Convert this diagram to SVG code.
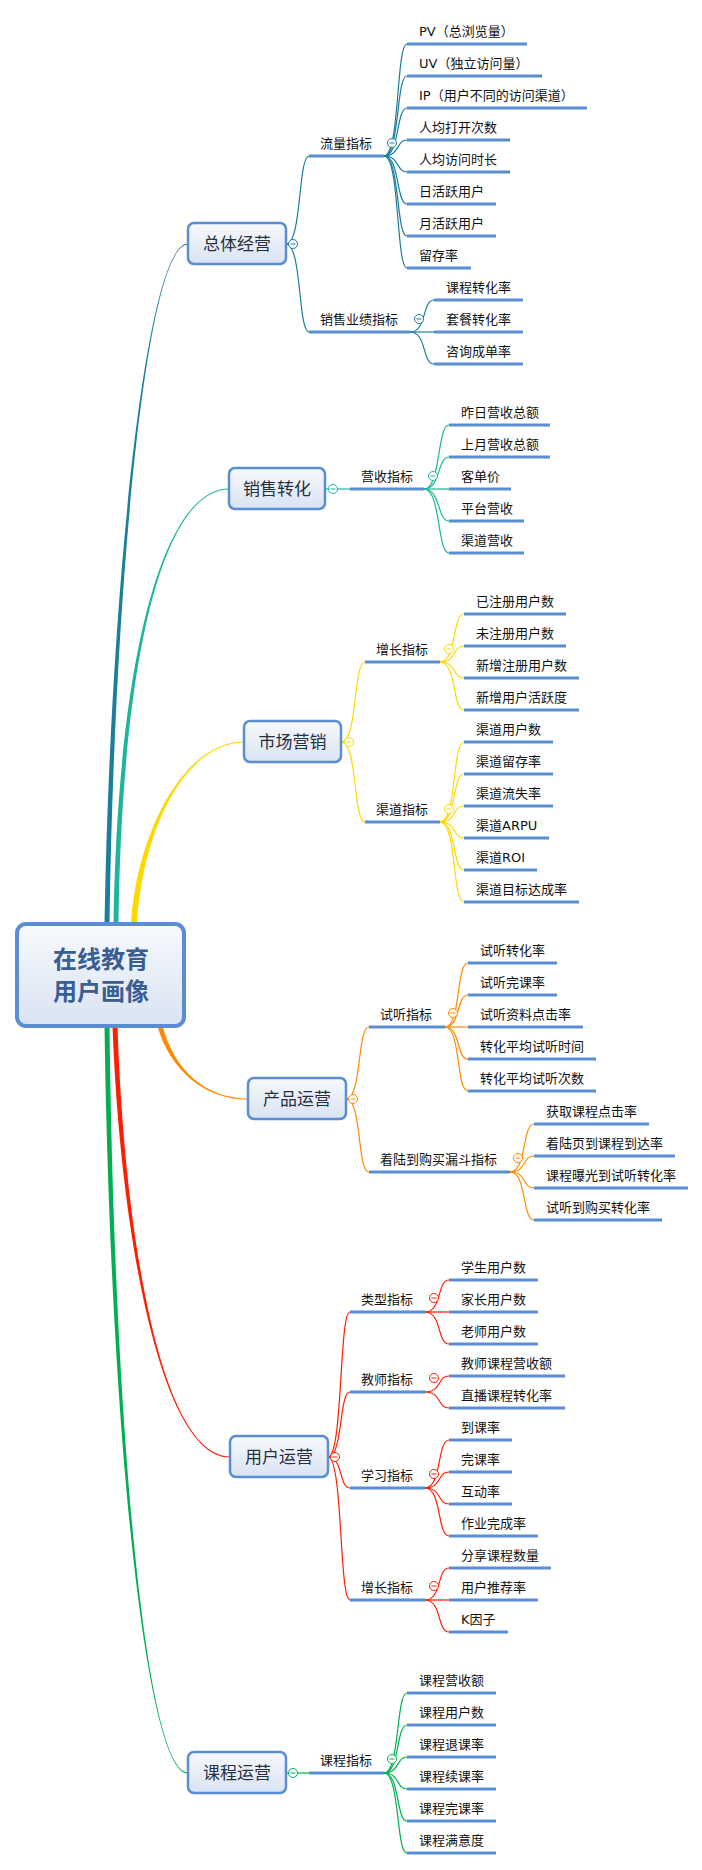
<svg xmlns="http://www.w3.org/2000/svg" width="702" height="1870" viewBox="0 0 702 1870">
<defs>
<linearGradient id="gBox" x1="0" y1="0" x2="0" y2="1">
<stop offset="0" stop-color="#f7f9fd"/>
<stop offset="1" stop-color="#d9e3f2"/>
</linearGradient>
<style>
.u{stroke:#5b8dd3;stroke-width:3;fill:none}
.t{font-family:"DejaVu Sans","Noto Sans CJK SC",sans-serif;font-size:13px;fill:#111}
.l1t{font-family:"Noto Sans CJK SC",sans-serif;font-size:17px;fill:#27303f;text-anchor:middle}
.ct{font-family:"Noto Sans CJK SC",sans-serif;font-size:24px;font-weight:bold;fill:#3a5e92;text-anchor:middle}
.box{fill:url(#gBox);stroke:#5b8dd3;stroke-width:2.5}
.cbox{fill:url(#gBox);stroke:#5b8dd3;stroke-width:4}
.cn{fill:none;stroke-width:1.2}
.cc{fill:#fff;stroke-width:1}
.b1{stroke:#1a7f9c}.f1{fill:#1a7f9c}
.b2{stroke:#1fb59b}.f2{fill:#1fb59b}
.b3{stroke:#ffd800}.f3{fill:#ffd800}
.b4{stroke:#ff8a00}.f4{fill:#ff8a00}
.b5{stroke:#ff1e00}.f5{fill:#ff1e00}
.b6{stroke:#00b050}.f6{fill:#00b050}
</style>
</defs>
<rect width="702" height="1870" fill="#fff"/>
<g id="connectors">
<path class="f1" d="M104.5,923 C110,600 145,243.3 188,243.4 L188,244.6 C145,244.7 114,600 109.5,923 Z"/>
<path class="f2" d="M113.5,923 C118,650 165,488.3 229,488.4 L229,489.6 C165,489.7 122,650 118.5,923 Z"/>
<path class="f3" d="M131,923 C137.5,830 185,741.2 244,741.4 L244,742.6 C185,742.8 142.5,830 137,923 Z"/>
<path class="f4" d="M157.6,1026.6 C170.1,1070.5 205,1099.8 248,1099.6 L248,1098.4 C205,1098.2 173.9,1069.5 162.4,1025.4 Z"/>
<path class="f5" d="M112.5,1026 C120,1230 160,1457.7 230,1457.6 L230,1456.4 C160,1456.3 124,1230 117.5,1026 Z"/>
<path class="f6" d="M104.5,1026 C110,1420 145,1773.7 188,1773.6 L188,1772.4 C145,1772.3 114,1420 109.5,1026 Z"/>
<g class="cn b1">
<path d="M286,244 C302,244 298,156 309,156"/>
<path d="M286,244 C302,244 298,332 309,332"/>
<path d="M384,156 C400,156 396,44 407,44"/>
<path d="M384,156 C400,156 396,76 407,76"/>
<path d="M384,156 C400,156 396,108 407,108"/>
<path d="M384,156 C400,156 396,140 407,140"/>
<path d="M384,156 C400,156 396,172 407,172"/>
<path d="M384,156 C400,156 396,204 407,204"/>
<path d="M384,156 C400,156 396,236 407,236"/>
<path d="M384,156 C400,156 396,268 407,268"/>
<path d="M410,332 C427,332 422,300 434,300"/>
<path d="M410,332 L434,332"/>
<path d="M410,332 C427,332 422,364 434,364"/>
</g>
<g class="cn b2">
<path d="M325,489 L350,489"/>
<path d="M424,489 C441,489 437,425 449,425"/>
<path d="M424,489 C441,489 437,457 449,457"/>
<path d="M424,489 L449,489"/>
<path d="M424,489 C441,489 437,521 449,521"/>
<path d="M424,489 C441,489 437,553 449,553"/>
</g>
<g class="cn b3">
<path d="M341,742 C358,742 353,662 365,662"/>
<path d="M341,742 C358,742 353,822 365,822"/>
<path d="M440,662 C457,662 452,614 464,614"/>
<path d="M440,662 C457,662 452,646 464,646"/>
<path d="M440,662 C457,662 452,678 464,678"/>
<path d="M440,662 C457,662 452,710 464,710"/>
<path d="M440,822 C457,822 452,742 464,742"/>
<path d="M440,822 C457,822 452,774 464,774"/>
<path d="M440,822 C457,822 452,806 464,806"/>
<path d="M440,822 C457,822 452,838 464,838"/>
<path d="M440,822 C457,822 452,870 464,870"/>
<path d="M440,822 C457,822 452,902 464,902"/>
</g>
<g class="cn b4">
<path d="M346,1099 C362,1099 357,1027 369,1027"/>
<path d="M346,1099 C362,1099 357,1172 369,1172"/>
<path d="M445,1027 C461,1027 456,963 468,963"/>
<path d="M445,1027 C461,1027 456,995 468,995"/>
<path d="M445,1027 L468,1027"/>
<path d="M445,1027 C461,1027 456,1059 468,1059"/>
<path d="M445,1027 C461,1027 456,1091 468,1091"/>
<path d="M510,1172 C527,1172 522,1124 534,1124"/>
<path d="M510,1172 C527,1172 522,1156 534,1156"/>
<path d="M510,1172 C527,1172 522,1188 534,1188"/>
<path d="M510,1172 C527,1172 522,1220 534,1220"/>
</g>
<g class="cn b5">
<path d="M328,1457 C343,1457 339,1312 350,1312"/>
<path d="M328,1457 C343,1457 339,1392 350,1392"/>
<path d="M328,1457 C343,1457 339,1488 350,1488"/>
<path d="M328,1457 C343,1457 339,1600 350,1600"/>
<path d="M425,1312 C442,1312 437,1280 449,1280"/>
<path d="M425,1312 L449,1312"/>
<path d="M425,1312 C442,1312 437,1344 449,1344"/>
<path d="M425,1392 C442,1392 437,1376 449,1376"/>
<path d="M425,1392 C442,1392 437,1408 449,1408"/>
<path d="M425,1488 C442,1488 437,1440 449,1440"/>
<path d="M425,1488 C442,1488 437,1472 449,1472"/>
<path d="M425,1488 C442,1488 437,1504 449,1504"/>
<path d="M425,1488 C442,1488 437,1536 449,1536"/>
<path d="M425,1600 C442,1600 437,1568 449,1568"/>
<path d="M425,1600 L449,1600"/>
<path d="M425,1600 C442,1600 437,1632 449,1632"/>
</g>
<g class="cn b6">
<path d="M286,1773 L309,1773"/>
<path d="M384,1773 C400,1773 396,1693 407,1693"/>
<path d="M384,1773 C400,1773 396,1725 407,1725"/>
<path d="M384,1773 C400,1773 396,1757 407,1757"/>
<path d="M384,1773 C400,1773 396,1789 407,1789"/>
<path d="M384,1773 C400,1773 396,1821 407,1821"/>
<path d="M384,1773 C400,1773 396,1853 407,1853"/>
</g>
</g>

<g id="root">
<rect class="cbox" x="17" y="924" width="167" height="102" rx="9"/>
<text class="ct" x="101" y="968">在线教育</text>
<text class="ct" x="101" y="1000">用户画像</text>
</g>

<!-- Branch 1 -->
<g id="n-zongti">
<rect class="box" x="188" y="223" width="98" height="41" rx="6"/>
<text class="l1t" x="237" y="250">总体经营</text>
<circle class="cc b1" cx="293" cy="244" r="4.5"/><path class="b1" d="M290.5,244 H295.5"/>
</g>
<g id="n-liuliang">
<line class="u" x1="309" y1="156" x2="384" y2="156"/>
<text class="t" x="320" y="148">流量指标</text>
<circle class="cc b1" cx="392" cy="143" r="4.5"/><path class="b1" d="M389.5,143 H394.5"/>
</g>
<g id="n-pv"><line class="u" x1="407" y1="44" x2="527" y2="44"/><text class="t" x="419" y="36">PV（总浏览量）</text></g>
<g id="n-uv"><line class="u" x1="407" y1="76" x2="542" y2="76"/><text class="t" x="419" y="68">UV（独立访问量）</text></g>
<g id="n-ip"><line class="u" x1="407" y1="108" x2="587" y2="108"/><text class="t" x="419" y="100">IP（用户不同的访问渠道）</text></g>
<g id="n-rjdk"><line class="u" x1="407" y1="140" x2="510" y2="140"/><text class="t" x="419" y="132">人均打开次数</text></g>
<g id="n-rjfw"><line class="u" x1="407" y1="172" x2="510" y2="172"/><text class="t" x="419" y="164">人均访问时长</text></g>
<g id="n-rhy"><line class="u" x1="407" y1="204" x2="496" y2="204"/><text class="t" x="419" y="196">日活跃用户</text></g>
<g id="n-yhy"><line class="u" x1="407" y1="236" x2="496" y2="236"/><text class="t" x="419" y="228">月活跃用户</text></g>
<g id="n-lcl"><line class="u" x1="407" y1="268" x2="471" y2="268"/><text class="t" x="419" y="260">留存率</text></g>
<g id="n-xsyj">
<line class="u" x1="309" y1="332" x2="410" y2="332"/>
<text class="t" x="320" y="324">销售业绩指标</text>
<circle class="cc b1" cx="419" cy="319" r="4.5"/><path class="b1" d="M416.5,319 H421.5"/>
</g>
<g id="n-kczh"><line class="u" x1="434" y1="300" x2="523" y2="300"/><text class="t" x="446" y="292">课程转化率</text></g>
<g id="n-tczh"><line class="u" x1="434" y1="332" x2="523" y2="332"/><text class="t" x="446" y="324">套餐转化率</text></g>
<g id="n-zxcd"><line class="u" x1="434" y1="364" x2="523" y2="364"/><text class="t" x="446" y="356">咨询成单率</text></g>

<!-- Branch 2 -->
<g id="n-xiaoshou">
<rect class="box" x="229" y="468" width="96" height="41" rx="6"/>
<text class="l1t" x="277" y="495">销售转化</text>
<circle class="cc b2" cx="333" cy="489" r="4.5"/><path class="b2" d="M330.5,489 H335.5"/>
</g>
<g id="n-yingshou">
<line class="u" x1="350" y1="489" x2="424" y2="489"/>
<text class="t" x="361" y="481">营收指标</text>
<circle class="cc b2" cx="433" cy="476" r="4.5"/><path class="b2" d="M430.5,476 H435.5"/>
</g>
<g id="n-zr"><line class="u" x1="449" y1="425" x2="550" y2="425"/><text class="t" x="461" y="417">昨日营收总额</text></g>
<g id="n-sy"><line class="u" x1="449" y1="457" x2="550" y2="457"/><text class="t" x="461" y="449">上月营收总额</text></g>
<g id="n-kdj"><line class="u" x1="449" y1="489" x2="511" y2="489"/><text class="t" x="461" y="481">客单价</text></g>
<g id="n-ptys"><line class="u" x1="449" y1="521" x2="524" y2="521"/><text class="t" x="461" y="513">平台营收</text></g>
<g id="n-qdys"><line class="u" x1="449" y1="553" x2="524" y2="553"/><text class="t" x="461" y="545">渠道营收</text></g>

<!-- Branch 3 -->
<g id="n-shichang">
<rect class="box" x="244" y="721" width="97" height="41" rx="6"/>
<text class="l1t" x="292.5" y="748">市场营销</text>
<circle class="cc b3" cx="349" cy="742" r="4.5"/><path class="b3" d="M346.5,742 H351.5"/>
</g>
<g id="n-zengzhang1">
<line class="u" x1="365" y1="662" x2="440" y2="662"/>
<text class="t" x="376" y="654">增长指标</text>
<circle class="cc b3" cx="449" cy="649" r="4.5"/><path class="b3" d="M446.5,649 H451.5"/>
</g>
<g id="n-yzc"><line class="u" x1="464" y1="614" x2="566" y2="614"/><text class="t" x="476" y="606">已注册用户数</text></g>
<g id="n-wzc"><line class="u" x1="464" y1="646" x2="566" y2="646"/><text class="t" x="476" y="638">未注册用户数</text></g>
<g id="n-xzzc"><line class="u" x1="464" y1="678" x2="579" y2="678"/><text class="t" x="476" y="670">新增注册用户数</text></g>
<g id="n-xzhy"><line class="u" x1="464" y1="710" x2="579" y2="710"/><text class="t" x="476" y="702">新增用户活跃度</text></g>
<g id="n-qudao">
<line class="u" x1="365" y1="822" x2="440" y2="822"/>
<text class="t" x="376" y="814">渠道指标</text>
<circle class="cc b3" cx="449" cy="809" r="4.5"/><path class="b3" d="M446.5,809 H451.5"/>
</g>
<g id="n-qdyh"><line class="u" x1="464" y1="742" x2="553" y2="742"/><text class="t" x="476" y="734">渠道用户数</text></g>
<g id="n-qdlc"><line class="u" x1="464" y1="774" x2="553" y2="774"/><text class="t" x="476" y="766">渠道留存率</text></g>
<g id="n-qdls"><line class="u" x1="464" y1="806" x2="553" y2="806"/><text class="t" x="476" y="798">渠道流失率</text></g>
<g id="n-qdarpu"><line class="u" x1="464" y1="838" x2="549" y2="838"/><text class="t" x="476" y="830">渠道ARPU</text></g>
<g id="n-qdroi"><line class="u" x1="464" y1="870" x2="537" y2="870"/><text class="t" x="476" y="862">渠道ROI</text></g>
<g id="n-qdmb"><line class="u" x1="464" y1="902" x2="579" y2="902"/><text class="t" x="476" y="894">渠道目标达成率</text></g>

<!-- Branch 4 -->
<g id="n-chanpin">
<rect class="box" x="248" y="1078" width="98" height="41" rx="6"/>
<text class="l1t" x="297" y="1105">产品运营</text>
<circle class="cc b4" cx="353" cy="1099" r="4.5"/><path class="b4" d="M350.5,1099 H355.5"/>
</g>
<g id="n-shiting">
<line class="u" x1="369" y1="1027" x2="445" y2="1027"/>
<text class="t" x="380" y="1019">试听指标</text>
<circle class="cc b4" cx="453" cy="1013" r="4.5"/><path class="b4" d="M450.5,1013 H455.5"/>
</g>
<g id="n-stzh"><line class="u" x1="468" y1="963" x2="557" y2="963"/><text class="t" x="480" y="955">试听转化率</text></g>
<g id="n-stwk"><line class="u" x1="468" y1="995" x2="557" y2="995"/><text class="t" x="480" y="987">试听完课率</text></g>
<g id="n-stzl"><line class="u" x1="468" y1="1027" x2="583" y2="1027"/><text class="t" x="480" y="1019">试听资料点击率</text></g>
<g id="n-zhsj"><line class="u" x1="468" y1="1059" x2="596" y2="1059"/><text class="t" x="480" y="1051">转化平均试听时间</text></g>
<g id="n-zhcs"><line class="u" x1="468" y1="1091" x2="596" y2="1091"/><text class="t" x="480" y="1083">转化平均试听次数</text></g>
<g id="n-zhuolu">
<line class="u" x1="369" y1="1172" x2="510" y2="1172"/>
<text class="t" x="380" y="1164">着陆到购买漏斗指标</text>
<circle class="cc b4" cx="518" cy="1158" r="4.5"/><path class="b4" d="M515.5,1158 H520.5"/>
</g>
<g id="n-hqkc"><line class="u" x1="534" y1="1124" x2="649" y2="1124"/><text class="t" x="546" y="1116">获取课程点击率</text></g>
<g id="n-zlydd"><line class="u" x1="534" y1="1156" x2="675" y2="1156"/><text class="t" x="546" y="1148">着陆页到课程到达率</text></g>
<g id="n-kcbg"><line class="u" x1="534" y1="1188" x2="688" y2="1188"/><text class="t" x="546" y="1180">课程曝光到试听转化率</text></g>
<g id="n-stdgm"><line class="u" x1="534" y1="1220" x2="662" y2="1220"/><text class="t" x="546" y="1212">试听到购买转化率</text></g>

<!-- Branch 5 -->
<g id="n-yonghu">
<rect class="box" x="230" y="1436" width="98" height="41" rx="6"/>
<text class="l1t" x="279" y="1463">用户运营</text>
<circle class="cc b5" cx="335" cy="1457" r="4.5"/><path class="b5" d="M332.5,1457 H337.5"/>
</g>
<g id="n-leixing">
<line class="u" x1="350" y1="1312" x2="425" y2="1312"/>
<text class="t" x="361" y="1304">类型指标</text>
<circle class="cc b5" cx="434" cy="1298" r="4.5"/><path class="b5" d="M431.5,1298 H436.5"/>
</g>
<g id="n-xs"><line class="u" x1="449" y1="1280" x2="538" y2="1280"/><text class="t" x="461" y="1272">学生用户数</text></g>
<g id="n-jz"><line class="u" x1="449" y1="1312" x2="538" y2="1312"/><text class="t" x="461" y="1304">家长用户数</text></g>
<g id="n-ls"><line class="u" x1="449" y1="1344" x2="538" y2="1344"/><text class="t" x="461" y="1336">老师用户数</text></g>
<g id="n-jiaoshi">
<line class="u" x1="350" y1="1392" x2="425" y2="1392"/>
<text class="t" x="361" y="1384">教师指标</text>
<circle class="cc b5" cx="434" cy="1378" r="4.5"/><path class="b5" d="M431.5,1378 H436.5"/>
</g>
<g id="n-jsys"><line class="u" x1="449" y1="1376" x2="565" y2="1376"/><text class="t" x="461" y="1368">教师课程营收额</text></g>
<g id="n-zbzh"><line class="u" x1="449" y1="1408" x2="565" y2="1408"/><text class="t" x="461" y="1400">直播课程转化率</text></g>
<g id="n-xuexi">
<line class="u" x1="350" y1="1488" x2="425" y2="1488"/>
<text class="t" x="361" y="1480">学习指标</text>
<circle class="cc b5" cx="434" cy="1474" r="4.5"/><path class="b5" d="M431.5,1474 H436.5"/>
</g>
<g id="n-dkl"><line class="u" x1="449" y1="1440" x2="512" y2="1440"/><text class="t" x="461" y="1432">到课率</text></g>
<g id="n-wkl"><line class="u" x1="449" y1="1472" x2="512" y2="1472"/><text class="t" x="461" y="1464">完课率</text></g>
<g id="n-hdl"><line class="u" x1="449" y1="1504" x2="512" y2="1504"/><text class="t" x="461" y="1496">互动率</text></g>
<g id="n-zywc"><line class="u" x1="449" y1="1536" x2="538" y2="1536"/><text class="t" x="461" y="1528">作业完成率</text></g>
<g id="n-zengzhang2">
<line class="u" x1="350" y1="1600" x2="425" y2="1600"/>
<text class="t" x="361" y="1592">增长指标</text>
<circle class="cc b5" cx="434" cy="1586" r="4.5"/><path class="b5" d="M431.5,1586 H436.5"/>
</g>
<g id="n-fxkc"><line class="u" x1="449" y1="1568" x2="551" y2="1568"/><text class="t" x="461" y="1560">分享课程数量</text></g>
<g id="n-yhtj"><line class="u" x1="449" y1="1600" x2="538" y2="1600"/><text class="t" x="461" y="1592">用户推荐率</text></g>
<g id="n-kyz"><line class="u" x1="449" y1="1632" x2="508" y2="1632"/><text class="t" x="461" y="1624">K因子</text></g>

<!-- Branch 6 -->
<g id="n-kecheng">
<rect class="box" x="188" y="1752" width="98" height="41" rx="6"/>
<text class="l1t" x="237" y="1779">课程运营</text>
<circle class="cc b6" cx="293" cy="1773" r="4.5"/><path class="b6" d="M290.5,1773 H295.5"/>
</g>
<g id="n-kczb">
<line class="u" x1="309" y1="1773" x2="384" y2="1773"/>
<text class="t" x="320" y="1765">课程指标</text>
<circle class="cc b6" cx="392" cy="1759" r="4.5"/><path class="b6" d="M389.5,1759 H394.5"/>
</g>
<g id="n-kcys"><line class="u" x1="407" y1="1693" x2="496" y2="1693"/><text class="t" x="419" y="1685">课程营收额</text></g>
<g id="n-kcyh"><line class="u" x1="407" y1="1725" x2="496" y2="1725"/><text class="t" x="419" y="1717">课程用户数</text></g>
<g id="n-kctk"><line class="u" x1="407" y1="1757" x2="496" y2="1757"/><text class="t" x="419" y="1749">课程退课率</text></g>
<g id="n-kcxk"><line class="u" x1="407" y1="1789" x2="496" y2="1789"/><text class="t" x="419" y="1781">课程续课率</text></g>
<g id="n-kcwk"><line class="u" x1="407" y1="1821" x2="496" y2="1821"/><text class="t" x="419" y="1813">课程完课率</text></g>
<g id="n-kcmy"><line class="u" x1="407" y1="1853" x2="496" y2="1853"/><text class="t" x="419" y="1845">课程满意度</text></g>
</svg>
